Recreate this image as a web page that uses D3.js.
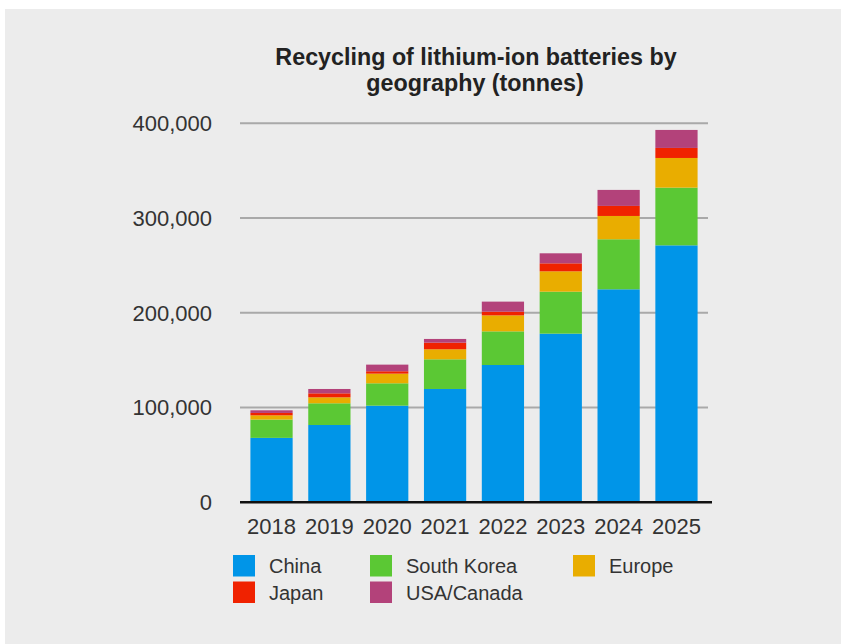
<!DOCTYPE html>
<html>
<head>
<meta charset="utf-8">
<script src="https://cdn.jsdelivr.net/npm/d3@7"></script>
<style>
  body { margin: 0; background: #fff; }
  svg { display: block; font-family: "Liberation Sans", Arial, sans-serif; }
</style>
</head>
<body>
<svg width="841" height="644"></svg>
<script>
// Data (tonnes)
const years = ["2018", "2019", "2020", "2021", "2022", "2023", "2024", "2025"];
const regions = ["China", "South Korea", "Europe", "Japan", "USA/Canada"];
const china = [68000, 81600, 102000, 119600, 144900, 178000, 224800, 271200];
const southKorea = [19300, 22900, 23600, 31300, 35500, 44300, 52800, 60900];
const europe = [4500, 6300, 10200, 10600, 16900, 21500, 24600, 31300];
const japan = [2500, 4200, 2500, 7000, 3900, 8400, 10600, 10600];
const usaCanada = [2800, 4600, 7000, 3900, 10600, 10600, 16900, 19000];
const yTicks = [0, 100000, 200000, 300000, 400000];

const colors = ["#0095e8", "#5bc834", "#e9ad00", "#f02200", "#b3427a"];

const series = [china, southKorea, europe, japan, usaCanada];
const rows = years.map((y, i) => {
  const r = { year: y };
  regions.forEach((k, j) => (r[k] = series[j][i]));
  return r;
});

const svg = d3.select("svg");

// background panel
svg.append("rect")
  .attr("x", 5).attr("y", 9)
  .attr("width", 836).attr("height", 635)
  .attr("fill", "#ececec");

// title
const title = svg.append("text")
  .attr("text-anchor", "middle")
  .attr("font-weight", "bold")
  .attr("font-size", 23.3)
  .attr("fill", "#222");
title.append("tspan").attr("x", 476).attr("y", 65).text("Recycling of lithium-ion batteries by");
title.append("tspan").attr("x", 475).attr("y", 91).text("geography (tonnes)");

const x = d3.scaleBand()
  .domain(years)
  .range([240, 708])
  .paddingInner(0.27)
  .paddingOuter(0.18);

const y = d3.scaleLinear()
  .domain([0, 400000])
  .range([502.3, 123.3]);

// gridlines
svg.append("g")
  .selectAll("line")
  .data(yTicks.filter((d) => d > 0))
  .enter()
  .append("line")
  .attr("x1", 240).attr("x2", 708)
  .attr("y1", (d) => y(d)).attr("y2", (d) => y(d))
  .attr("stroke", "#a9a9a9")
  .attr("stroke-width", 2);

// y labels
svg.append("g")
  .selectAll("text")
  .data(yTicks)
  .enter()
  .append("text")
  .attr("x", 212)
  .attr("y", (d) => y(d))
  .attr("dy", "0.36em")
  .attr("text-anchor", "end")
  .attr("font-size", 22)
  .attr("fill", "#333")
  .text((d) => d3.format(",")(d));

// stacked bars
const stack = d3.stack().keys(regions)(rows);

svg.append("g")
  .selectAll("g")
  .data(stack)
  .enter()
  .append("g")
  .attr("fill", (d, i) => colors[i])
  .selectAll("rect")
  .data((d) => d)
  .enter()
  .append("rect")
  .attr("x", (d) => x(d.data.year))
  .attr("width", x.bandwidth())
  .attr("y", (d) => y(d[1]))
  .attr("height", (d) => y(d[0]) - y(d[1]));

// baseline
svg.append("line")
  .attr("x1", 240).attr("x2", 712)
  .attr("y1", y(0)).attr("y2", y(0))
  .attr("stroke", "#111")
  .attr("stroke-width", 2.5);

// x labels
svg.append("g")
  .selectAll("text")
  .data(years)
  .enter()
  .append("text")
  .attr("x", (d) => x(d) + x.bandwidth() / 2)
  .attr("y", 534)
  .attr("text-anchor", "middle")
  .attr("font-size", 22)
  .attr("fill", "#333")
  .text((d) => d);

// legend
const legendX = [233, 370, 573];
const legendY = [555, 581.5];
const legend = svg.append("g")
  .selectAll("g")
  .data(regions)
  .enter()
  .append("g")
  .attr("transform", (d, i) => `translate(${legendX[i % 3]},${legendY[Math.floor(i / 3)]})`);

legend.append("rect")
  .attr("width", 22).attr("height", 21.5)
  .attr("fill", (d, i) => colors[i]);

legend.append("text")
  .attr("x", 36)
  .attr("y", 11)
  .attr("dy", "0.36em")
  .attr("font-size", 20)
  .attr("fill", "#333")
  .text((d) => d);
</script>
</body>
</html>
